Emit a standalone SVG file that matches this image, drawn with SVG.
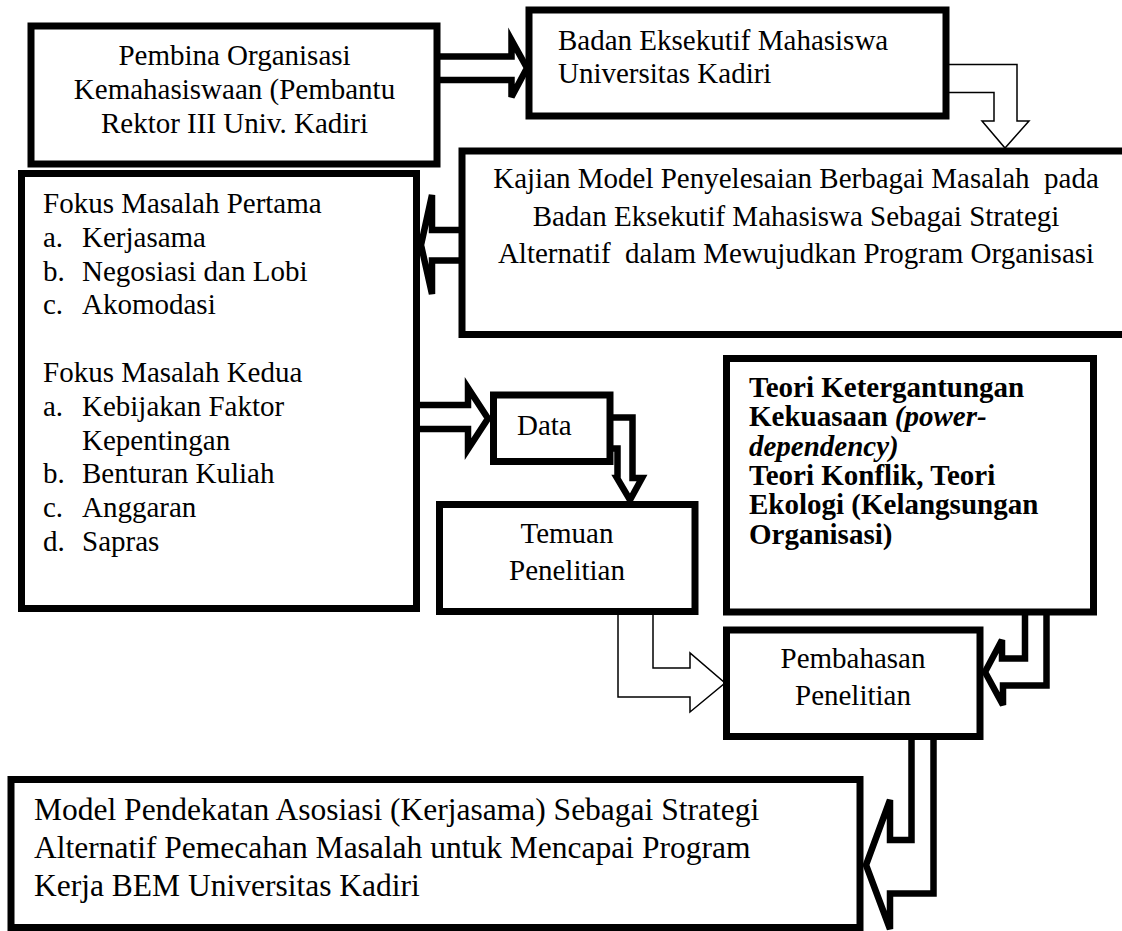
<svg xmlns="http://www.w3.org/2000/svg" width="1122" height="931" viewBox="0 0 1122 931">
<style>
.box{fill:#fff;stroke:#000;stroke-width:7}
.ab{fill:#fff;stroke:#000;stroke-width:6.5;stroke-linejoin:miter}
.aw{fill:#fff;stroke:#000;stroke-width:1.5;stroke-linejoin:miter}
text{font-family:"Liberation Serif","Times New Roman",serif;font-size:29px;fill:#000}
.c{text-anchor:middle}
.b{font-weight:bold}
.big{font-size:31.5px}
</style>
<rect width="1122" height="931" fill="#fff"/>
<g id="connectors">
<path class="ab" d="M437,56.5 L511.5,56.5 L511.5,40 L527,68 L511.5,97 L511.5,80 L437,80"/>
<path class="aw" d="M946,64.5 L1017,64.5 L1017,121 L1029,121 L1005,148 L982,121 L994,121 L994,92.5 L946,92.5"/>
<path class="ab" d="M462,230 L432,230 L432,195 L421,245 L432,294 L432,260.5 L462,260.5"/>
<path class="ab" d="M416.5,405 L468,405 L468,388 L488,418.5 L468,449 L468,429 L416.5,429"/>
<path class="ab" d="M610,417.5 L632.5,417.5 L632.5,478 L642,478 L630,500 L617,478 L617.5,478 L617.5,448.5 L610,448.5"/>
<path class="aw" d="M618,611.5 L618,697 L690,697 L690,712 L725,683 L690,653 L690,668 L653,668 L653,611.5"/>
<path class="ab" d="M1025,612 L1025,658.5 L1002,658.5 L1002,640 L985,672 L1003,705 L1003,685.5 L1046.5,685.5 L1046.5,612"/>
<path class="ab" d="M911.5,736.5 L911.5,840 L890,840 L890,800 L866,865 L890,929 L890,893.5 L933.5,893.5 L933.5,736.5"/>
</g>
<g id="pembina">
<rect class="box" x="31" y="26" width="406" height="138"/>
<text class="c" x="234.5" y="65">Pembina Organisasi</text>
<text class="c" x="234.5" y="99">Kemahasiswaan (Pembantu</text>
<text class="c" x="234.5" y="133">Rektor III Univ. Kadiri</text>
</g>
<g id="bem">
<rect class="box" x="529" y="10" width="417" height="106"/>
<text x="558" y="50">Badan Eksekutif Mahasiswa</text>
<text x="558" y="83">Universitas Kadiri</text>
</g>
<g id="kajian">
<rect class="box" x="462" y="151" width="670" height="183.5"/>
<text class="c" x="796" y="188" xml:space="preserve">Kajian Model Penyelesaian Berbagai Masalah  pada</text>
<text class="c" x="796" y="225.5">Badan Eksekutif Mahasiswa Sebagai Strategi</text>
<text class="c" x="796" y="263" xml:space="preserve">Alternatif  dalam Mewujudkan Program Organisasi</text>
</g>
<g id="fokus">
<rect class="box" x="21.5" y="173.5" width="395" height="435"/>
<text x="43" y="213">Fokus Masalah Pertama</text>
<text x="43" y="247">a.</text><text x="82" y="247">Kerjasama</text>
<text x="43" y="280.6">b.</text><text x="82" y="280.6">Negosiasi dan Lobi</text>
<text x="43" y="314.4">c.</text><text x="82" y="314.4">Akomodasi</text>
<text x="43" y="382">Fokus Masalah Kedua</text>
<text x="43" y="415.8">a.</text><text x="82" y="415.8">Kebijakan Faktor</text>
<text x="82" y="449.6">Kepentingan</text>
<text x="43" y="483.4">b.</text><text x="82" y="483.4">Benturan Kuliah</text>
<text x="43" y="517.2">c.</text><text x="82" y="517.2">Anggaran</text>
<text x="43" y="551">d.</text><text x="82" y="551">Sapras</text>
</g>
<g id="data">
<rect class="box" x="493.5" y="395" width="116.5" height="66.5"/>
<text x="517" y="435">Data</text>
</g>
<g id="temuan">
<rect class="box" x="439.5" y="504.5" width="255.5" height="107"/>
<text class="c" x="567" y="543">Temuan</text>
<text class="c" x="567" y="580">Penelitian</text>
</g>
<g id="teori">
<rect class="box" x="726.5" y="358.5" width="367" height="253.5"/>
<text class="b" x="749" y="397">Teori Ketergantungan</text>
<text class="b" x="749" y="426.3">Kekuasaan <tspan font-style="italic">(power-</tspan></text>
<text class="b" x="749" y="455.6" font-style="italic">dependency)</text>
<text class="b" x="749" y="484.9">Teori Konflik, Teori</text>
<text class="b" x="749" y="514.2">Ekologi (Kelangsungan</text>
<text class="b" x="749" y="543.5">Organisasi)</text>
</g>
<g id="pembahasan">
<rect class="box" x="726.5" y="630" width="253.5" height="106.5"/>
<text class="c" x="853" y="668">Pembahasan</text>
<text class="c" x="853" y="705">Penelitian</text>
</g>
<g id="model">
<rect class="box" x="11" y="779.5" width="849" height="148"/>
<text class="big" x="34" y="820">Model Pendekatan Asosiasi (Kerjasama) Sebagai Strategi</text>
<text class="big" x="34" y="858">Alternatif Pemecahan Masalah untuk Mencapai Program</text>
<text class="big" x="34" y="896">Kerja BEM Universitas Kadiri</text>
</g>
</svg>
